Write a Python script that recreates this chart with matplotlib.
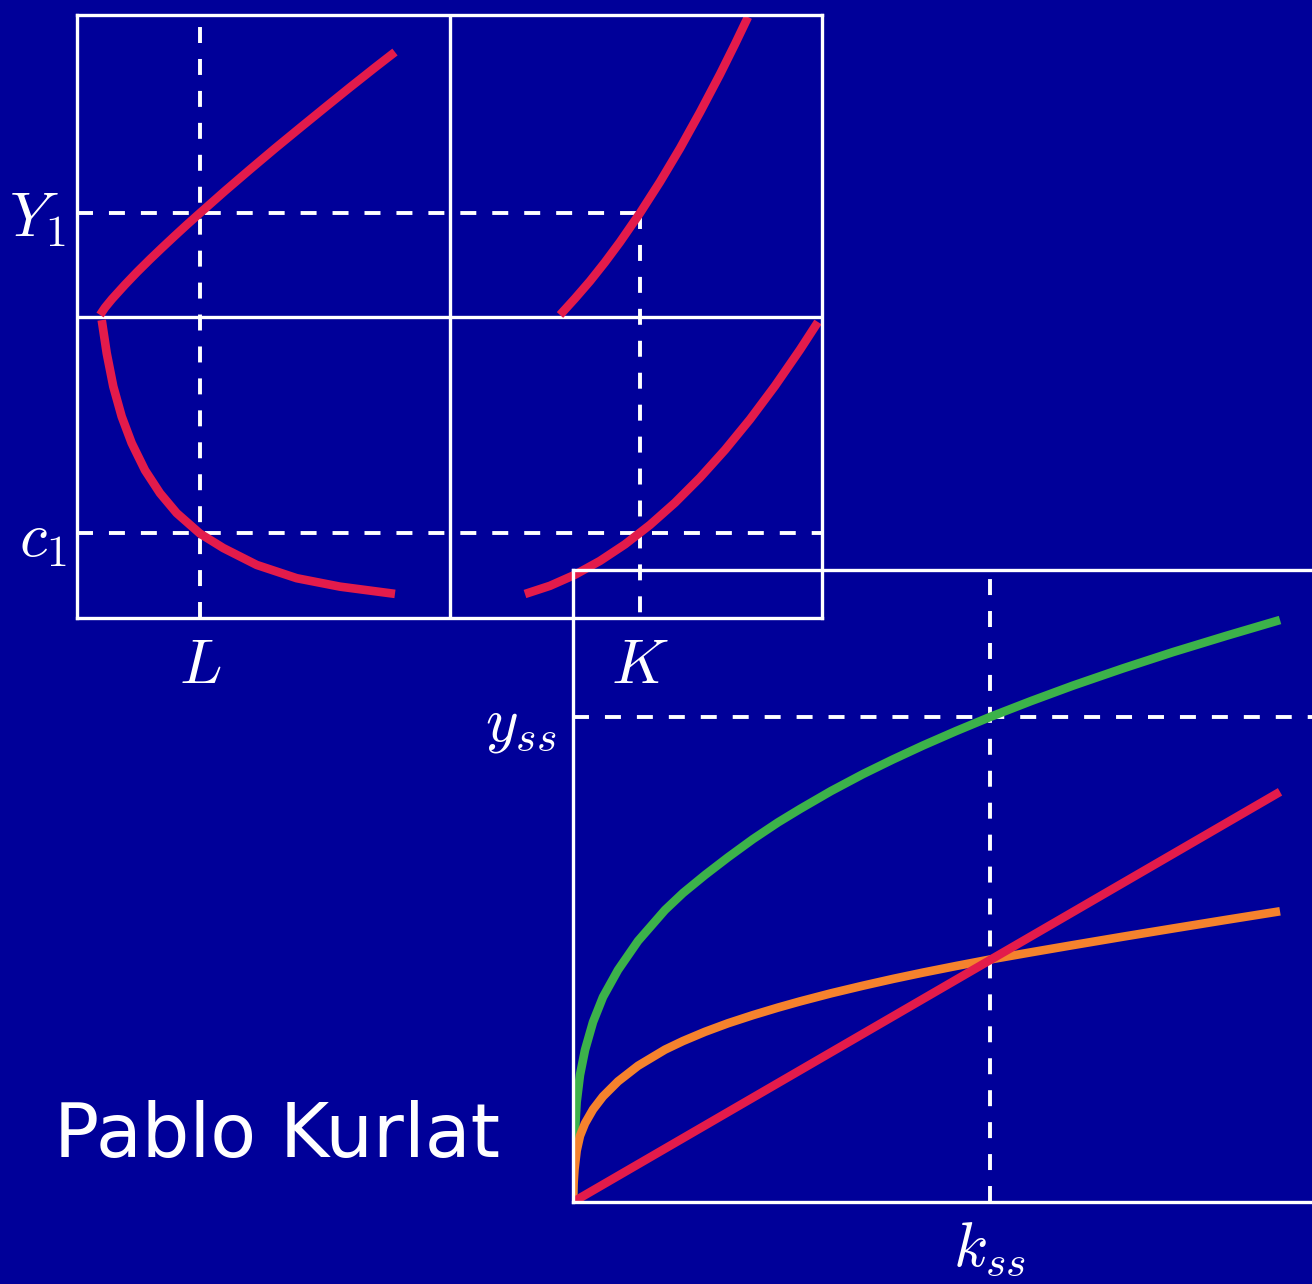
import matplotlib.pyplot as plt

plt.rcParams['mathtext.fontset'] = 'cm'
plt.rcParams['lines.scale_dashes'] = False

BG = '#000099'
RED = '#E31B4B'
GREEN = '#3CB24A'
ORANGE = '#F5822D'

# ---- top-left four-quadrant diagram, box runs 0..100 on both axes
prod_L_x = [3.09, 3.76, 4.70, 6.44, 8.05, 9.80, 11.41, 13.15, 14.77, 16.51,
            19.87, 23.22, 26.58, 29.93, 33.29, 36.64, 40.0, 42.68]
prod_L_y = [50.25, 51.48, 52.90, 55.27, 57.35, 59.49, 61.39, 63.40, 65.24, 67.16,
            70.83, 74.38, 77.88, 81.28, 84.66, 88.0, 91.29, 93.86]
cons_L_x = [3.32, 3.99, 4.87, 6.00, 7.34, 9.13, 11.14, 13.38, 16.51, 19.64,
            24.12, 29.49, 35.30, 42.68]
cons_L_y = [49.4, 43.9, 38.4, 33.4, 29.0, 24.5, 20.7, 17.4, 14.0, 11.6,
            8.8, 6.6, 5.2, 4.0]
prod_K_x = [64.83, 66.85, 68.86, 70.87, 72.89, 75.57, 78.26, 80.94, 83.62,
            86.31, 88.32, 90.07]
prod_K_y = [50.25, 53.0, 55.87, 59.0, 62.36, 67.16, 72.34, 77.89, 83.86,
            90.17, 95.16, 99.67]
cons_K_x = [60.13, 63.49, 66.85, 70.2, 73.56, 76.91, 80.27, 83.62, 86.98,
            90.34, 93.69, 97.05, 99.46]
cons_K_y = [3.98, 5.34, 7.18, 9.47, 12.22, 15.44, 19.12, 23.27, 27.88,
            32.95, 38.49, 44.50, 49.09]
L_val, K_val = 16.5, 75.6
Y1_val, c1_val = 67.2, 14.1

# ---- bottom-right Solow diagram
k = [0, 0.07, 0.2, 0.49, 0.93, 1.6, 2.67, 4.0, 6.0, 8.67, 12.27, 14.67, 17.6,
     20.67, 24.0, 27.33, 30.27, 34.4, 38.67, 42.67, 46.67, 51.07, 55.6, 61.07,
     66.67, 73.33, 80.0, 87.07, 94.27]
output = [0, 5.54, 9.81, 15.82, 20.09, 24.05, 28.48, 32.44, 36.71, 41.30,
          46.20, 48.89, 51.74, 54.54, 57.42, 60.06, 62.18, 65.02, 67.71, 70.03,
          72.23, 74.51, 76.74, 79.26, 81.71, 84.43, 87.01, 89.57, 92.09]
savings = [0, 2.78, 5.16, 8.12, 10.46, 12.44, 14.65, 16.71, 19.08, 21.55,
           24.11, 25.47, 26.93, 28.28, 29.57, 30.76, 31.74, 33.02, 34.23, 35.30,
           36.30, 37.34, 38.37, 39.51, 40.65, 41.98, 43.28, 44.64, 46.0]
dep_k = [0, 94.27]
dep_y = [0, 64.9]
k_ss, y_ss = 55.6, 76.7

W, H = 1312, 1284
fig = plt.figure(figsize=(W / 100, H / 100), dpi=100, facecolor=BG)

dash = dict(color='white', lw=2.8, ls=(0, (11.5, 11.5)))
curve = dict(lw=6.2, solid_capstyle='butt', solid_joinstyle='round')

# top-left box
ax1 = fig.add_axes([77 / W, (H - 618) / H, 745 / W, 603 / H])
ax1.set_facecolor('none')
ax1.set_xlim(0, 100)
ax1.set_ylim(0, 100)
ax1.axvline(50, color='white', lw=2.4)
ax1.axhline(50, color='white', lw=2.4)
ax1.plot([L_val, L_val], [0, 100], **dash)
ax1.plot([0, K_val], [Y1_val, Y1_val], **dash)
ax1.plot([K_val, K_val], [Y1_val, 0], **dash)
ax1.plot([0, 100], [c1_val, c1_val], **dash)
ax1.plot(prod_L_x, prod_L_y, color=RED, **curve)
ax1.plot(cons_L_x, cons_L_y, color=RED, **curve)
ax1.plot(prod_K_x, prod_K_y, color=RED, **curve)
ax1.plot(cons_K_x, cons_K_y, color=RED, clip_on=False, **curve)
ax1.set_xticks([L_val, K_val], ['$L$', '$K$'])
ax1.set_yticks([c1_val, Y1_val], ['$c_1$', '$Y_1$'])
ax1.tick_params(axis='x', length=0, pad=13, labelsize=45, labelcolor='white')
ax1.tick_params(axis='y', length=0, pad=8, labelsize=45, labelcolor='white')
for s in ax1.spines.values():
    s.set_color('white')
    s.set_linewidth(2.4)

# bottom-right box (right edge runs off the canvas)
ax2 = fig.add_axes([573 / W, (H - 1202) / H, 750 / W, 632 / H])
ax2.set_facecolor('none')
ax2.set_xlim(0, 100)
ax2.set_ylim(0, 100)
ax2.plot([0, 100], [y_ss, y_ss], **dash)
ax2.plot([k_ss, k_ss], [0, 100], **dash)
ax2.plot(k, output, color=GREEN, **curve)
ax2.plot(k, savings, color=ORANGE, **curve)
ax2.plot(dep_k, dep_y, color=RED, **curve)
ax2.set_xticks([k_ss], ['$k_{ss}$'])
ax2.set_yticks([y_ss], ['$y_{ss}$'])
ax2.tick_params(axis='x', length=0, pad=12, labelsize=45, labelcolor='white')
ax2.tick_params(axis='y', length=0, pad=12, labelsize=45, labelcolor='white')
for s in ax2.spines.values():
    s.set_color('white')
    s.set_linewidth(2.4)

fig.text(54 / W, (H - 1157) / H, 'Pablo Kurlat', color='white', fontsize=54,
         family='DejaVu Sans', va='baseline', ha='left')

fig.savefig('out.png', dpi=100, facecolor=BG)
